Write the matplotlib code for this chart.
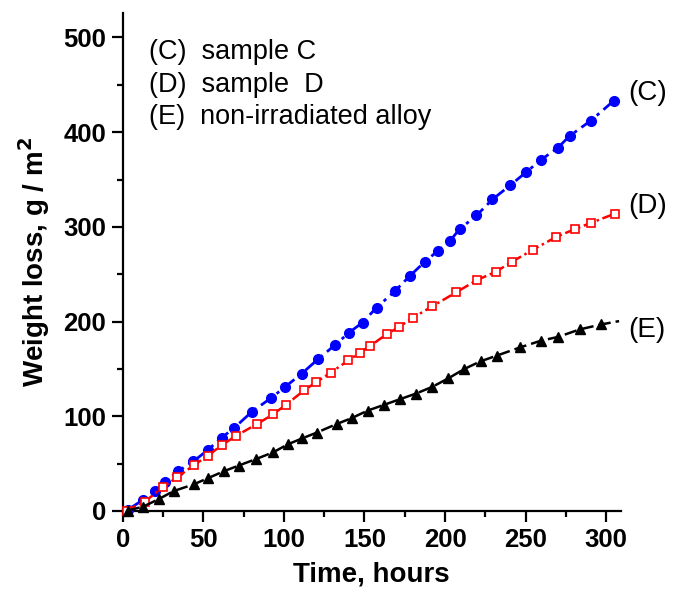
import numpy as np
import matplotlib
matplotlib.use('Agg')
import matplotlib.pyplot as plt
from matplotlib.ticker import MultipleLocator

plt.rcParams['font.family'] = ['Liberation Sans', 'DejaVu Sans']

# sample C (blue, filled circles)
t_c = [3, 12.8, 20, 26.2, 34.1, 43.8, 52.7, 61.4, 69, 80.3, 91.8, 100.4, 111, 121,
       132, 140.5, 148.8, 157.5, 168.8, 178, 187.4, 195.7, 203, 209, 219.5, 229.4,
       240.5, 250.5, 259.3, 270, 277.3, 290.3, 304.6]
w_c = [1, 12, 20.6, 30.4, 41.8, 52.3, 64.3, 77.4, 87.5, 105, 119, 130.5, 145, 160,
       175.7, 188.4, 199, 214.8, 232, 248, 263, 275, 285, 297.6, 312, 329,
       344, 358, 370.5, 383.5, 396, 412, 433]

# sample D (red, open squares)
t_d = [2.5, 13.8, 24.8, 33.9, 44.2, 52.7, 61.6, 70, 83.3, 93.2, 101.4, 112.6, 120,
       129, 140, 147, 153.3, 163.7, 171.5, 180, 192, 207, 220, 231.4, 241.8, 254.6,
       268.6, 280.4, 290.3, 305.4]
w_d = [0.5, 10, 25, 35.7, 48.4, 58.3, 69.6, 79, 91.8, 102, 112.3, 127.4, 136,
       146, 159, 167, 174, 186.6, 194.3, 204, 216, 231, 244, 252.5, 263.4, 276,
       289, 297.6, 304, 314]

# non-irradiated alloy (black, triangles)
t_e = [3, 12.6, 22.3, 31.6, 44.3, 52.7, 62.8, 72, 83, 93.4, 102.6, 111.3, 120.3,
       132.7, 142, 152, 162, 172, 182, 192, 202, 212, 222, 232, 246.7, 259.5, 270.2,
       283.5, 297]
w_e = [0.5, 4.5, 12.5, 21, 28.3, 34.5, 42, 48, 55, 62, 70.5, 76.6, 82.7,
       91.8, 98, 106, 112, 118, 124, 131, 140, 150, 158, 164, 172.8, 179.8, 183.8,
       191.7, 197]

legend_lines = ['(C)  sample C', '(D)  sample  D', '(E)  non-irradiated alloy']
end_labels = ['(C)', '(D)', '(E)']

fig = plt.figure(figsize=(6.75, 5.91), dpi=100)
ax = fig.add_axes([0.1818, 0.1354, 0.9196 - 0.1818, 0.9775 - 0.1354])

ax.plot(t_c, w_c, color='#0000ff', ls=(0, (5, 2, 1.2, 2)), lw=2, marker='o', ms=7,
        mfc='#0000ff', mec='#0000ff', clip_on=False, zorder=3)
ax.plot(t_d, w_d, color='#ff0000', ls=(0, (4, 1.5, 1, 1.5)), lw=1.8,
        marker='s', ms=6, mfc='white', mec='#ff0000', mew=1.2, clip_on=False, zorder=3)
ax.plot(t_e + [308], w_e + [200.5], color='black', ls=(0, (5, 2)), lw=1.8, marker='^',
        ms=7, markevery=list(range(len(t_e))), clip_on=False, zorder=3)

ax.set_xlim(0, 309)
ax.set_ylim(0, 525.5)
ax.xaxis.set_major_locator(MultipleLocator(50))
ax.xaxis.set_minor_locator(MultipleLocator(25))
ax.yaxis.set_major_locator(MultipleLocator(100))
ax.yaxis.set_minor_locator(MultipleLocator(50))

for s in ['top', 'right']:
    ax.spines[s].set_visible(False)
for s in ['left', 'bottom']:
    ax.spines[s].set_linewidth(1.6)

ax.tick_params(which='major', direction='out', length=8, width=1.6, pad=4)
ax.tick_params(which='minor', direction='out', length=4.5, width=1.6)
for lab in ax.get_xticklabels() + ax.get_yticklabels():
    lab.set_fontsize(18.5)
    lab.set_fontweight('bold')

ax.set_xlabel('Time, hours', fontsize=20, fontweight='bold', labelpad=7)
ax.set_ylabel('Weight loss, g / m$^\\mathbf{2}$', fontsize=20, fontweight='bold', labelpad=8)

for i, txt in enumerate(legend_lines):
    fig.text(149 / 675, 1 - (52 + 32.5 * i) / 591, txt, fontsize=19.5,
             ha='left', va='center')

for txt, y in zip(end_labels, [93, 206, 330]):
    fig.text(628 / 675, 1 - y / 591, txt, fontsize=20, ha='left', va='center')

fig.savefig('out.png', dpi=100)
